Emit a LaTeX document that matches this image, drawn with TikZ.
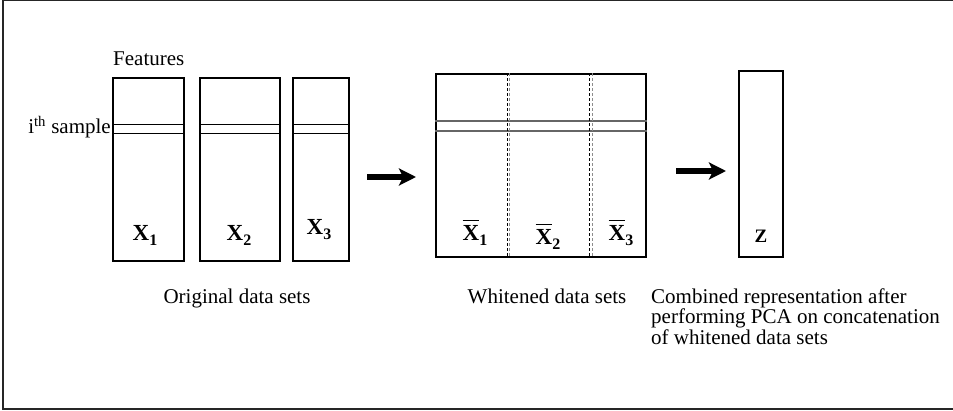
\documentclass[tikz,border=0pt]{standalone}
\usepackage{fontspec}
\setmainfont{Liberation Serif}
\usetikzlibrary{arrows.meta}

% bold data-set symbol with a bold subscript
\newcommand{\dsym}[2]{{\fontsize{23}{23}\selectfont\bfseries #1}\raisebox{-5pt}{\fontsize{16}{16}\selectfont\bfseries #2}}
% same symbol with a bar over the letter
\newcommand{\dbsym}[2]{\makebox[0pt][l]{\rule[19.5pt]{16.5pt}{1.5pt}}\dsym{#1}{#2}}

\begin{document}
\begin{tikzpicture}[x=1pt,y=-1pt,
  font=\fontsize{21}{20.5}\selectfont,
  databox/.style={draw,line width=1.8pt,inner sep=0pt},
  rowline/.style={line width=1pt},
  greyrow/.style={line width=1.2pt,draw=black!60},
  sepdark/.style={line width=0.9pt,dash pattern=on 3pt off 2pt},
  seplight/.style={line width=0.9pt,draw=black!45,dash pattern=on 3pt off 2pt},
  bigarrow/.style={line width=5.5pt,-{Stealth[length=17pt,width=17pt,inset=4pt]}},
  lbl/.style={inner sep=0pt,anchor=base},
  caption/.style={inner sep=0pt,anchor=base}]

\useasboundingbox (0,0) rectangle (953,411);

% frame (open on the right)
\draw[line width=1.3pt,black!85] (953,0.7) -- (3,0.7) -- (3,409) -- (953,409);

% original data sets
\node[databox,minimum width=71pt,minimum height=183pt] (x1) at (148.5,169.5) {};
\node[databox,minimum width=80pt,minimum height=183pt] (x2) at (240,169.5) {};
\node[databox,minimum width=56pt,minimum height=183pt] (x3) at (321,169.5) {};
\foreach \b in {x1,x2,x3}{
  \draw[rowline] (\b.west |- 0,124.5) -- (\b.east |- 0,124.5);
  \draw[rowline] (\b.west |- 0,134) -- (\b.east |- 0,134);
}
\node[lbl] (l1) at (145,241) {\dsym{X}{1}};
\node[lbl] (l2) at (239,241) {\dsym{X}{2}};
\node[lbl] (l3) at (319,235) {\dsym{X}{3}};

\node[caption,anchor=base west] (feat) at (113,66) {Features};
\node[caption,anchor=base east] (samp) at (111,134) {i\textsuperscript{th} sample};
\node[caption] (orig) at (237,304) {Original data sets};

% whitened data sets
\node[databox,minimum width=210pt,minimum height=183pt] (w) at (541,165.5) {};
\draw[greyrow] (w.west |- 0,121) -- (w.east |- 0,121);
\draw[greyrow] (w.west |- 0,131) -- (w.east |- 0,131);
\draw[sepdark] (w.north -| 507,0) -- (w.south -| 507,0);
\draw[seplight] (w.north -| 509.5,0) -- (w.south -| 509.5,0);
\draw[sepdark] (w.north -| 589.5,0) -- (w.south -| 589.5,0);
\draw[seplight] (w.north -| 592,0) -- (w.south -| 592,0);
\node[lbl] (b1) at (475,241) {\dbsym{X}{1}};
\node[lbl] (b2) at (548,245) {\dbsym{X}{2}};
\node[lbl] (b3) at (621,241) {\dbsym{X}{3}};
\node[caption] (whit) at (547,304) {Whitened data sets};

% combined representation
\node[databox,minimum width=44pt,minimum height=186pt] (z) at (761,164) {};
\node[lbl,font=\fontsize{19}{19}\selectfont\bfseries] (lz) at (761,243) {Z};
\node[caption,anchor=north west,align=left] (comb) at (651,288.5)
  {Combined representation after\\performing PCA on concatenation\\of whitened data sets};

% arrows between the stages
\coordinate (a1s) at (367,177);
\coordinate (a1e) at (416,177);
\coordinate (a2s) at (676,171);
\coordinate (a2e) at (726,171);
\draw[bigarrow] (a1s) -- (a1e);
\draw[bigarrow] (a2s) -- (a2e);
\end{tikzpicture}
\end{document}
